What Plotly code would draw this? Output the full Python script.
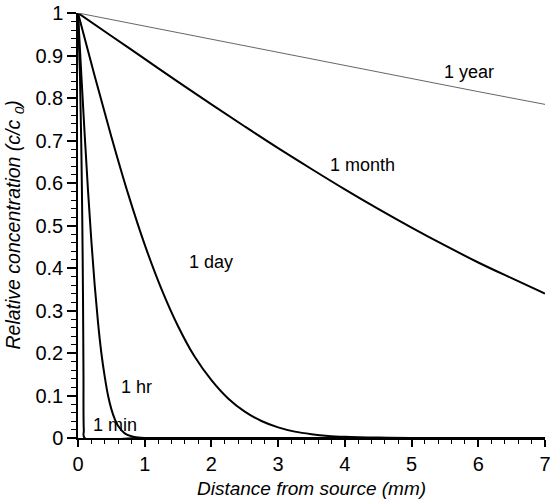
import plotly.graph_objects as go

# Values
min_x = [0, 0.03, 0.05, 0.065, 0.075, 0.082, 0.087, 0.1, 1.0, 7.0]
min_y = [1, 0.85, 0.68, 0.5, 0.33, 0.15, 0.02, 0.0, 0.0, 0.0]

hr_x = [0, 0.05, 0.1, 0.15, 0.2, 0.25, 0.3, 0.35, 0.4, 0.45, 0.5, 0.55, 0.6, 0.7, 0.8, 0.9, 1.0, 7.0]
hr_y = [1, 0.854, 0.714, 0.582, 0.464, 0.36, 0.272, 0.2, 0.145, 0.1, 0.068, 0.045, 0.029, 0.011, 0.004, 0.001, 0.0, 0.0]

day_x = [0, 0.25, 0.5, 0.75, 1.0, 1.25, 1.5, 1.75, 2.0, 2.25, 2.5, 2.75, 3.0, 3.25, 3.5, 3.75, 4.0, 4.5, 5.0, 7.0]
day_y = [1, 0.852, 0.709, 0.575, 0.455, 0.351, 0.263, 0.191, 0.136, 0.093, 0.062, 0.04, 0.025, 0.015, 0.009, 0.005, 0.003, 0.001, 0.0, 0.0]

month_x = [0, 0.5, 1, 1.5, 2, 2.5, 3, 3.5, 4, 4.5, 5, 5.5, 6, 6.5, 7]
month_y = [1, 0.946, 0.892, 0.838, 0.785, 0.733, 0.682, 0.633, 0.585, 0.539, 0.495, 0.453, 0.413, 0.376, 0.34]

year_x = [0, 1, 2, 3, 4, 5, 6, 7]
year_y = [1, 0.969, 0.938, 0.907, 0.876, 0.845, 0.815, 0.785]

labels = ["1 min", "1 hr", "1 day", "1 month", "1 year"]
label_x = [0.56, 0.87, 2.0, 4.26, 5.86]
label_y = [0.031, 0.12, 0.413, 0.643, 0.862]

x_ticks = [0, 1, 2, 3, 4, 5, 6, 7]
y_ticks = [0, 0.1, 0.2, 0.3, 0.4, 0.5, 0.6, 0.7, 0.8, 0.9, 1]
y_tick_text = ["0", "0.1", "0.2", "0.3", "0.4", "0.5", "0.6", "0.7", "0.8", "0.9", "1"]

FONT = "Liberation Sans, Arial, sans-serif"

fig = go.Figure()
for xs, ys in [(min_x, min_y), (hr_x, hr_y), (day_x, day_y), (month_x, month_y)]:
    fig.add_trace(go.Scatter(x=xs, y=ys, mode="lines", line=dict(color="black", width=2),
                             line_shape="spline", showlegend=False, cliponaxis=False))
fig.add_trace(go.Scatter(x=year_x, y=year_y, mode="lines", line=dict(color="#666666", width=1),
                         showlegend=False, cliponaxis=False))

for t, xv, yv in zip(labels, label_x, label_y):
    fig.add_annotation(x=xv, y=yv, text=t, showarrow=False,
                       font=dict(family=FONT, size=18, color="black"))

# y-axis title as an annotation so it sits centred on the plot area
fig.add_annotation(xref="paper", yref="paper", x=-0.137, y=0.5, xanchor="center", yanchor="middle",
                   text="<i>Relative concentration (c/c&nbsp;<sub>0</sub>)</i>", textangle=-90,
                   showarrow=False, font=dict(family=FONT, size=19.5, color="black"))

fig.update_layout(
    width=551, height=501,
    margin=dict(l=78, r=6, t=13, b=63, autoexpand=False),
    plot_bgcolor="white", paper_bgcolor="white",
    font=dict(family=FONT, color="black"),
)
fig.update_xaxes(
    range=[0, 7], tickvals=x_ticks, ticktext=[str(v) for v in x_ticks],
    showline=True, linecolor="black", linewidth=1.5, showgrid=False, zeroline=False,
    ticks="outside", ticklen=7, tickwidth=1.5, tickcolor="black",
    minor=dict(dtick=0.2, ticks="outside", ticklen=4, tickwidth=1, tickcolor="black"),
    tickfont=dict(size=20), ticklabeloverflow="allow", automargin=False,
    title=dict(text="<i>Distance from source (mm)</i>", font=dict(size=19), standoff=8),
)
fig.update_yaxes(
    range=[0, 1], tickvals=y_ticks, ticktext=y_tick_text,
    showline=True, linecolor="black", linewidth=1.5, showgrid=False, zeroline=False,
    ticks="outside", ticklen=9, tickwidth=1.5, tickcolor="black",
    minor=dict(dtick=0.02, ticks="outside", ticklen=5, tickwidth=1, tickcolor="black"),
    tickfont=dict(size=20), ticklabeloverflow="allow", automargin=False,
)

fig.write_html("out.html")
